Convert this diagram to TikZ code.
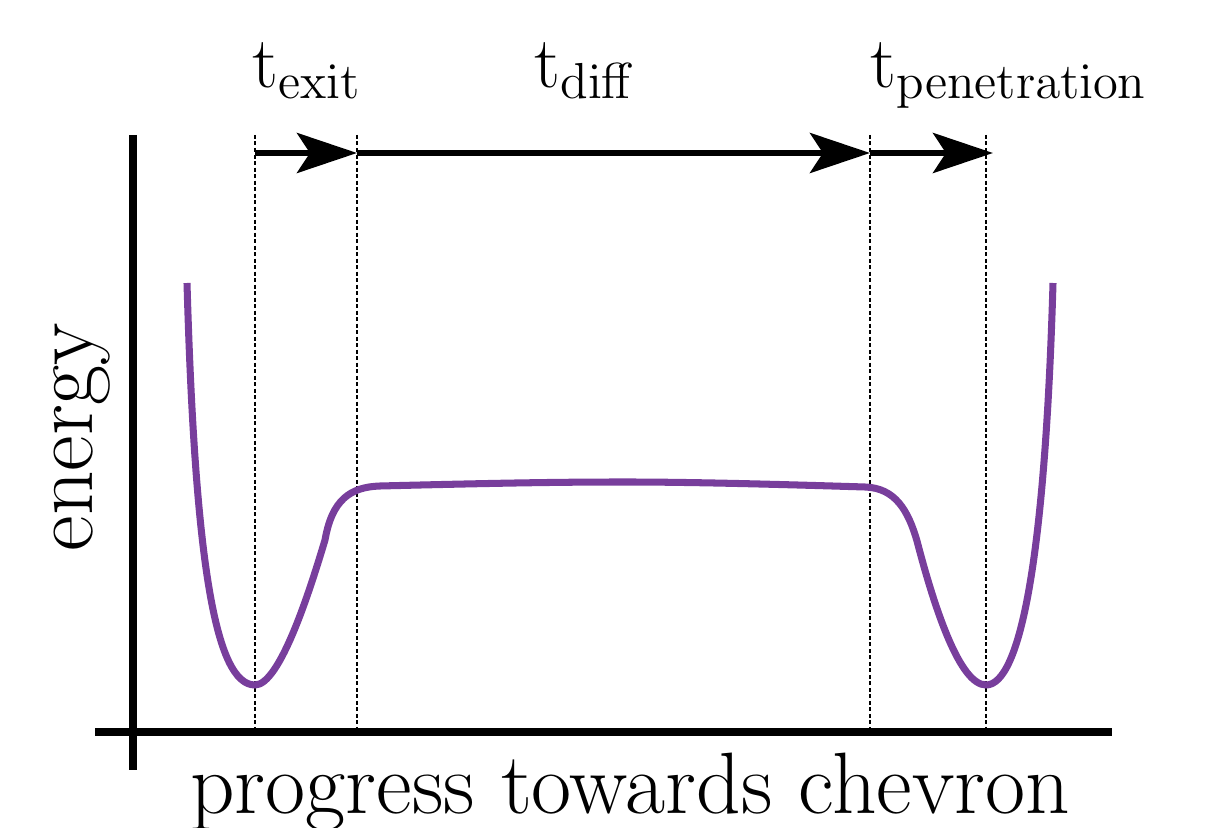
\documentclass[tikz,border=0pt]{standalone}
\usepackage{tikz}
\usetikzlibrary{arrows.meta}
\definecolor{wellpurple}{RGB}{120,62,156}

\begin{document}
\begin{tikzpicture}[
  x=0.01cm, y=-0.01cm,
  >={Stealth[length=6mm, width=4mm, inset=1.3mm]},
  axis/.style={line width=2.3pt},
  guide/.style={line width=0.55pt, dash pattern=on 0.4mm off 0.25mm},
  timearrow/.style={->, line width=1.7pt},
  landscape/.style={wellpurple, line width=2pt},
  lbl/.style={font=\fontsize{22.5}{27}\selectfont, inner sep=0pt},
  axlbl/.style={font=\fontsize{24.8}{30}\selectfont, inner sep=0pt}
]
\useasboundingbox (0,0) rectangle (1209,828);

% axes
\coordinate (yTop) at (133,135);
\coordinate (yBot) at (133,770);
\coordinate (xLeft) at (95,732);
\coordinate (xRight) at (1112,732);
\draw[axis] (yTop) -- (yBot);
\draw[axis] (xLeft) -- (xRight);

% stage boundaries
\coordinate (minL) at (255,135);
\coordinate (exitE) at (357,135);
\coordinate (diffE) at (870,135);
\coordinate (minR) at (986,135);
\foreach \c in {minL,exitE,diffE,minR}
  \draw[guide] (\c) -- (\c |- xLeft);

% time arrows
\coordinate (a0) at (255,153);
\coordinate (a1) at (357,153);
\coordinate (a2) at (870,153);
\coordinate (a3) at (993,153);
\draw[timearrow] (a0) -- (a1);
\draw[timearrow] (a1) -- (a2);
\draw[timearrow] (a2) -- (a3);

\node[lbl, anchor=base west] (texit) at (252,88) {$\mathrm{t}_{\mathrm{exit}}$};
\node[lbl, anchor=base west] (tdiff) at (534,88) {$\mathrm{t}_{\mathrm{diff}}$};
\node[lbl, anchor=base west] (tpen) at (870,88) {$\mathrm{t}_{\mathrm{penetration}}$};

% energy landscape
\draw[landscape] (187,283) .. controls (195,560) and (215,685) .. (255,685)
  .. controls (280,685) and (310,590) .. (325,540)
  .. controls (332,500) and (350,487) .. (380,486)
  .. controls (500,483) and (560,482) .. (625,482)
  .. controls (700,482) and (800,485) .. (865,487)
  .. controls (895,488) and (908,510) .. (917,541)
  .. controls (935,610) and (960,685) .. (986,685)
  .. controls (1020,685) and (1045,560) .. (1053,283);

% axis labels
\node[axlbl, rotate=90, anchor=base] (elbl) at (92,437) {energy};
\node[axlbl, anchor=base] (plbl) at (630,814) {progress towards chevron};
\end{tikzpicture}
\end{document}
